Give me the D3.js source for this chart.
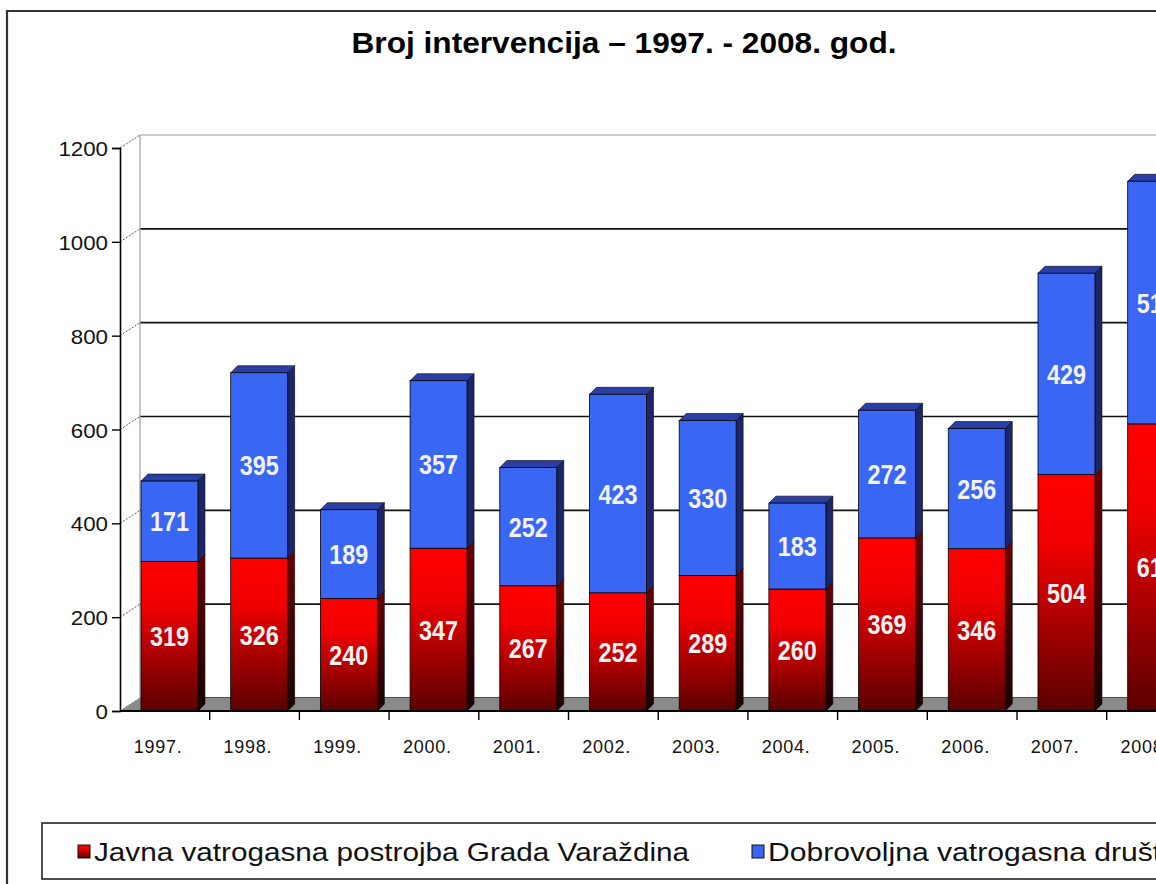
<!DOCTYPE html>
<html>
<head>
<meta charset="utf-8">
<script src="https://cdn.jsdelivr.net/npm/d3@7"></script>
<style>
  body { margin: 0; background: #fff; }
  svg { display: block; }
</style>
</head>
<body>
<svg id="chart"></svg>
<script>
var years = ['1997.', '1998.', '1999.', '2000.', '2001.', '2002.', '2003.', '2004.', '2005.', '2006.', '2007.', '2008.'];
var javna = [319, 326, 240, 347, 267, 252, 289, 260, 369, 346, 504, 612];
var dobrovoljna = [171, 395, 189, 357, 252, 423, 330, 183, 272, 256, 429, 517];
var yTicks = [0, 200, 400, 600, 800, 1000, 1200];
var seriesNames = ['Javna vatrogasna postrojba Grada Varaždina', 'Dobrovoljna vatrogasna društva'];

function drawChart(svgname) {

   var width = 1156,
       height = 884;

   var wallDx = 20, wallDy = -13,   // depth of the back wall
       barDx = 7, barDy = -7;       // depth of a bar

   var svg = d3.select('#' + svgname)
      .attr('width', width)
      .attr('height', height);

   var defs = svg.append('defs');
   var g1 = defs.append('linearGradient').attr('id', 'redFront')
      .attr('x1', 0).attr('y1', 0).attr('x2', 0).attr('y2', 1);
   g1.append('stop').attr('offset', '0%').attr('stop-color', '#ff0000');
   g1.append('stop').attr('offset', '30%').attr('stop-color', '#f00000');
   g1.append('stop').attr('offset', '100%').attr('stop-color', '#5a0000');
   var g2 = defs.append('linearGradient').attr('id', 'redSide')
      .attr('x1', 0).attr('y1', 0).attr('x2', 0).attr('y2', 1);
   g2.append('stop').attr('offset', '0%').attr('stop-color', '#6a0000');
   g2.append('stop').attr('offset', '100%').attr('stop-color', '#1a0000');

   var x = d3.scaleBand()
      .domain(years)
      .range([120, 120 + 12 * 89.7]);

   var y = d3.scaleLinear()
      .domain([0, 1200])
      .range([711, 148]);

   var bw = x.bandwidth();
   var x0 = x.range()[0], x1 = x.range()[1];

   // back wall grid lines
   svg.append('g').selectAll('line')
      .data(yTicks)
      .enter().append('line')
      .attr('x1', x0 + wallDx).attr('x2', x1 + wallDx)
      .attr('y1', function(d) { return y(d) + wallDy; })
      .attr('y2', function(d) { return y(d) + wallDy; })
      .attr('stroke', function(d) { return d === 1200 ? '#9a9a9a' : '#111'; })
      .attr('stroke-width', function(d) { return d === 1200 ? 1.2 : 1.6; });

   // left wall edge and diagonal grid
   svg.append('line')
      .attr('x1', x0 + wallDx).attr('x2', x0 + wallDx)
      .attr('y1', y(0) + wallDy).attr('y2', y(1200) + wallDy)
      .attr('stroke', '#a0a0a0').attr('stroke-width', 1.2);

   svg.append('g').selectAll('line')
      .data(yTicks)
      .enter().append('line')
      .attr('x1', x0).attr('x2', x0 + wallDx)
      .attr('y1', function(d) { return y(d); })
      .attr('y2', function(d) { return y(d) + wallDy; })
      .attr('stroke', '#555')
      .attr('stroke-width', 1)
      .attr('stroke-dasharray', '2,1.5');

   // floor
   svg.append('path')
      .attr('d', 'M' + x0 + ',' + y(0) + 'L' + (x1 + 40) + ',' + y(0) +
                 'L' + (x1 + 40) + ',' + (y(0) + wallDy) + 'L' + (x0 + wallDx) + ',' + (y(0) + wallDy) + 'Z')
      .attr('fill', '#8a8a8a');

   // bars
   var bars = svg.append('g').selectAll('g')
      .data(years)
      .enter().append('g');

   function segment(sel, lo, hi, front, side, top) {
      sel.each(function(d, i) {
         var gg = d3.select(this);
         var bx = x(d) + bw * 0.234, w = bw * 0.635;
         var yb = y(lo(i)), yt = y(hi(i));
         gg.append('path')
            .attr('d', 'M' + (bx + w) + ',' + yb + 'L' + (bx + w + barDx) + ',' + (yb + barDy) +
                       'L' + (bx + w + barDx) + ',' + (yt + barDy) + 'L' + (bx + w) + ',' + yt + 'Z')
            .attr('fill', side).attr('stroke', '#000').attr('stroke-width', 0.6);
         if (top) {
            gg.append('path')
               .attr('d', 'M' + bx + ',' + yt + 'L' + (bx + barDx) + ',' + (yt + barDy) +
                          'L' + (bx + w + barDx) + ',' + (yt + barDy) + 'L' + (bx + w) + ',' + yt + 'Z')
               .attr('fill', top).attr('stroke', '#000').attr('stroke-width', 0.6);
         }
         gg.append('rect')
            .attr('x', bx).attr('y', yt)
            .attr('width', w).attr('height', yb - yt)
            .attr('fill', front).attr('stroke', '#000').attr('stroke-width', 0.8);
      });
   }

   segment(bars, function() { return 0; }, function(i) { return javna[i]; }, 'url(#redFront)', 'url(#redSide)', null);
   segment(bars, function(i) { return javna[i]; }, function(i) { return javna[i] + dobrovoljna[i]; }, '#3a66f4', '#1c2568', '#2a3fa6');

   // value labels (narrow bold look)
   var labelFont = '"Liberation Sans", Arial, sans-serif';
   function valueLabels(vals, lo) {
      bars.append('text')
         .attr('x', function(d) { return x(d) + bw * 0.234 + bw * 0.3175; })
         .attr('y', function(d, i) { return (y(lo[i]) + y(lo[i] + vals[i])) / 2 + 10; })
         .attr('text-anchor', 'middle')
         .attr('textLength', function(d, i) { return String(vals[i]).length * 13; })
         .attr('lengthAdjust', 'spacingAndGlyphs')
         .style('font-family', labelFont).style('font-weight', 'bold').style('font-size', '28px')
         .attr('fill', '#f2f2f2')
         .text(function(d, i) { return vals[i]; });
   }
   valueLabels(javna, javna.map(function() { return 0; }));
   valueLabels(dobrovoljna, javna);

   // axes
   var yAxis = d3.axisLeft(y).tickValues(yTicks).tickFormat(d3.format('d')).tickSize(8).tickPadding(4);
   var ya = svg.append('g').attr('transform', 'translate(' + x0 + ',0)').call(yAxis);
   ya.select('.domain').attr('stroke', '#000').attr('stroke-width', 1.6);
   ya.selectAll('.tick line').attr('stroke', '#000').attr('stroke-width', 1.4);
   ya.selectAll('.tick text')
      .attr('dy', '0.36em')
      .attr('textLength', function(d) { return String(d).length * 12.4; })
      .attr('lengthAdjust', 'spacingAndGlyphs')
      .style('font-family', '"Liberation Sans", Arial, sans-serif')
      .style('font-size', '21px')
      .attr('fill', '#111');

   var xAxis = d3.axisBottom(x).tickSize(0).tickPadding(0);
   var xa = svg.append('g').attr('transform', 'translate(0,' + y(0) + ')').call(xAxis);
   xa.select('.domain').attr('d', 'M' + x0 + ',0H' + (x1 + 40)).attr('stroke', '#000').attr('stroke-width', 1.8);
   xa.selectAll('.tick text')
      .attr('dx', -7).attr('dy', 42)
      .attr('textLength', 48)
      .attr('lengthAdjust', 'spacing')
      .style('font-family', '"Liberation Sans", Arial, sans-serif')
      .style('font-size', '18px')
      .attr('fill', '#111');

   svg.append('g').selectAll('line')
      .data(years)
      .enter().append('line')
      .attr('x1', function(d) { return x(d) + bw; })
      .attr('x2', function(d) { return x(d) + bw; })
      .attr('y1', y(0)).attr('y2', y(0) + 9)
      .attr('stroke', '#000').attr('stroke-width', 1.4);

   // title
   svg.append('text')
      .attr('x', 624).attr('y', 53)
      .attr('text-anchor', 'middle')
      .attr('textLength', 545).attr('lengthAdjust', 'spacingAndGlyphs')
      .style('font-family', '"Liberation Sans", Arial, sans-serif')
      .style('font-weight', 'bold').style('font-size', '29px')
      .text('Broj intervencija – 1997. - 2008. god.');

   // outer frame
   svg.append('path')
      .attr('d', 'M7,' + height + 'V11H' + (width + 10))
      .attr('fill', 'none').attr('stroke', '#333').attr('stroke-width', 2.2);

   // legend
   svg.append('rect')
      .attr('x', 42).attr('y', 823).attr('width', 1200).attr('height', 56)
      .attr('fill', '#fff').attr('stroke', '#222').attr('stroke-width', 1.6);

   var legendX = [78, 752], legendLen = [595, 425];
   var legendFill = ['url(#redFront)', '#3a66f4'];
   var lg = svg.append('g').selectAll('g')
      .data(seriesNames)
      .enter().append('g');
   lg.append('rect')
      .attr('x', function(d, i) { return legendX[i]; }).attr('y', 845)
      .attr('width', 12).attr('height', 13)
      .attr('fill', function(d, i) { return legendFill[i]; })
      .attr('stroke', '#111').attr('stroke-width', 1);
   lg.append('text')
      .attr('x', function(d, i) { return legendX[i] + 16; }).attr('y', 861)
      .attr('textLength', function(d, i) { return legendLen[i]; })
      .attr('lengthAdjust', 'spacingAndGlyphs')
      .style('font-family', '"Liberation Sans", Arial, sans-serif')
      .style('font-size', '25px')
      .attr('fill', '#111')
      .text(function(d) { return d; });
}

drawChart('chart');
</script>
</body>
</html>
